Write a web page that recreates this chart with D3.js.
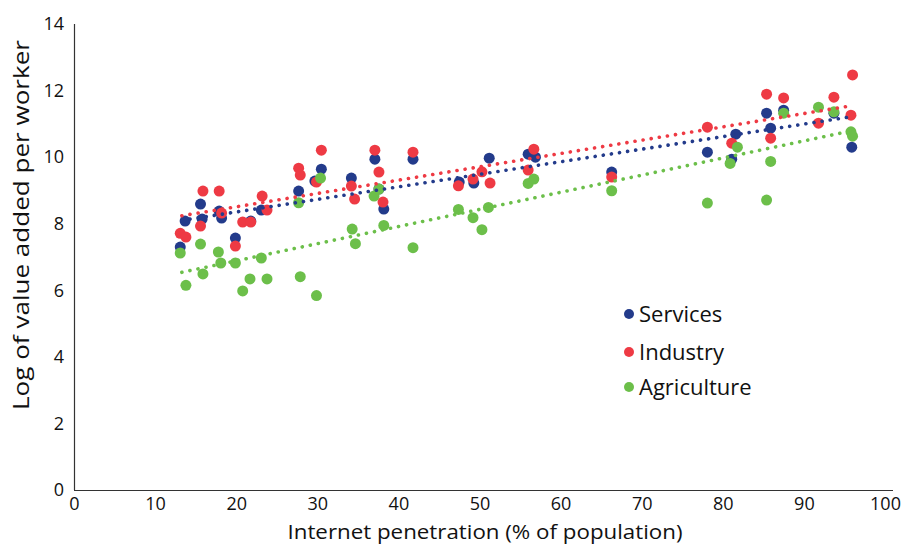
<!DOCTYPE html>
<html><head><meta charset="utf-8">
<script src="https://cdn.jsdelivr.net/npm/d3@7"></script>
<style>body{margin:0;background:#fff}svg{display:block}text{font-family:"Open Sans",Lato,sans-serif;fill:#111}</style>
</head><body><svg id="c" width="913" height="546"></svg>
<script>
const xTicks = [0,10,20,30,40,50,60,70,80,90,100];
const yTicks = [0,2,4,6,8,10,12,14];
const seriesNames = ["Services","Industry","Agriculture"];
const seriesColors = ["#233b8b","#ee3a44","#6cbf4a"];

const servicesX = [13.1,13.7,15.6,15.8,17.9,18.2,19.9,21.8,23.1,27.7,29.7,30.5,34.2,37.1,37.6,38.2,41.8,47.5,49.3,51.2,56.0,56.9,66.3,78.1,81.1,81.6,85.4,85.9,87.5,93.7,95.9];
const servicesY = [7.30,8.08,8.59,8.14,8.38,8.17,7.57,8.08,8.41,8.98,9.28,9.64,9.37,9.94,9.04,8.44,9.94,9.25,9.22,9.97,10.09,10.0,9.55,10.15,9.94,10.69,11.32,10.87,11.41,11.32,10.30];

const industryX = [13.1,13.8,15.6,15.9,17.9,18.2,19.9,20.8,21.8,23.2,23.8,27.7,27.9,29.9,30.5,34.2,34.6,37.1,37.6,38.1,41.8,47.4,49.2,50.3,51.3,56.0,56.7,66.3,78.1,81.1,85.4,85.9,87.5,91.8,93.7,95.8,96.0];
const industryY = [7.71,7.60,7.93,8.98,8.98,8.32,7.33,8.05,8.05,8.83,8.41,9.67,9.46,9.25,10.21,9.13,8.74,10.21,9.55,8.65,10.15,9.14,9.34,9.56,9.22,9.61,10.24,9.40,10.90,10.42,11.89,10.57,11.78,11.02,11.80,11.26,12.47];

const agricultureX = [13.1,13.8,15.6,15.9,17.8,18.1,19.9,20.8,21.7,23.1,23.8,27.7,27.9,29.9,30.4,34.3,34.7,37.0,37.6,38.2,41.8,47.4,49.2,50.3,51.1,56.0,56.7,66.3,78.1,80.9,81.8,85.4,85.9,87.5,91.8,93.7,95.8,96.0];
const agricultureY = [7.12,6.15,7.39,6.49,7.15,6.82,6.82,5.98,6.34,6.97,6.34,8.63,6.41,5.84,9.37,7.84,7.40,8.83,9.04,7.95,7.28,8.43,8.18,7.82,8.49,9.21,9.34,8.99,8.62,9.81,10.30,8.71,9.87,11.32,11.50,11.36,10.76,10.63];

const trendX = [13.3, 95.5];
const servicesTrend = [8.10, 11.20];
const industryTrend = [8.24, 11.53];
const agricultureTrend = [6.54, 10.77];

const svg = d3.select("#c");
const x = d3.scaleLinear().domain([0,100]).range([74,885]);
const y = d3.scaleLinear().domain([0,14]).range([490,24]);

const xAxis = svg.append("g").attr("transform","translate(0,490)")
  .call(d3.axisBottom(x).tickValues(xTicks).tickSize(0).tickPadding(7));
xAxis.select(".domain").attr("d","M74,0.5H893").attr("stroke","#333").attr("stroke-width",1.2);
xAxis.selectAll("text").attr("font-size",18).attr("fill","#111").style("font-family","Open Sans");

const yAxis = svg.append("g").attr("transform","translate(74,0)")
  .call(d3.axisLeft(y).tickValues(yTicks).tickSize(0).tickPadding(10));
yAxis.select(".domain").attr("d","M0.5,24V490").attr("stroke","#333").attr("stroke-width",1.2);
yAxis.selectAll("text").attr("font-size",18).attr("fill","#111").style("font-family","Open Sans");

svg.append("text").attr("x",485).attr("y",539).attr("text-anchor","middle")
  .attr("font-size",20).attr("textLength",395).attr("lengthAdjust","spacingAndGlyphs")
  .text("Internet penetration (% of population)");
svg.append("text").attr("transform","translate(29,225) rotate(-90)").attr("text-anchor","middle")
  .attr("font-size",21).attr("textLength",370).attr("lengthAdjust","spacingAndGlyphs")
  .text("Log of value added per worker");

const series = [
  {name:seriesNames[0], xs:servicesX, ys:servicesY, tr:servicesTrend, c:seriesColors[0]},
  {name:seriesNames[1], xs:industryX, ys:industryY, tr:industryTrend, c:seriesColors[1]},
  {name:seriesNames[2], xs:agricultureX, ys:agricultureY, tr:agricultureTrend, c:seriesColors[2]}
];

series.forEach(s=>{
  svg.append("g").selectAll("circle").data(s.xs.map((v,i)=>[v,s.ys[i]])).join("circle")
    .attr("cx",d=>x(d[0])).attr("cy",d=>y(d[1])).attr("r",5.5).attr("fill",s.c);
});
const line = d3.line().x(d=>x(d[0])).y(d=>y(d[1]));
series.forEach(s=>{
  svg.append("path").attr("d",line([[trendX[0],s.tr[0]],[trendX[1],s.tr[1]]]))
    .attr("stroke",s.c).attr("stroke-width",3.6).attr("stroke-linecap","round")
    .attr("stroke-dasharray","0.1 8.1").attr("fill","none");
});

const lg = svg.append("g");
series.forEach((s,i)=>{
  const yy = [314,352,387][i];
  lg.append("circle").attr("cx",629).attr("cy",yy).attr("r",5).attr("fill",s.c);
  lg.append("text").attr("x",639).attr("y",yy+8).attr("font-size",22).text(s.name);
});
</script></body></html>
